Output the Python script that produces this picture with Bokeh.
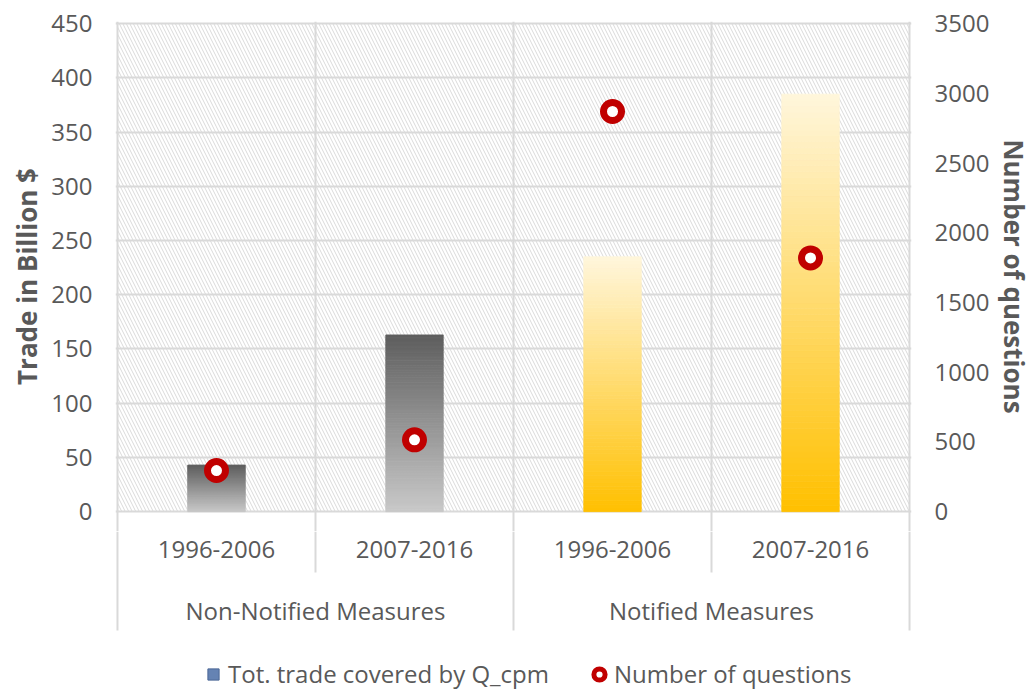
import numpy as np
from bokeh.plotting import figure
from bokeh.models import (Range1d, LinearAxis, FixedTicker, BoxAnnotation, Legend,
                          LegendItem, ColumnDataSource, Grid)
from bokeh.layouts import column
from bokeh.embed import file_html
from bokeh.resources import INLINE
from bokeh.core.properties import value

# ---------------- data ----------------
categories = ["1996-2006", "2007-2016", "1996-2006", "2007-2016"]
groups = ["Non-Notified Measures", "Non-Notified Measures", "Notified Measures", "Notified Measures"]
trade = [43, 163, 235, 385]            # Tot. trade covered by Q_cpm (billion $)
questions = [295, 515, 2870, 1820]     # Number of questions
left_ticks = [0, 50, 100, 150, 200, 250, 300, 350, 400, 450]
right_ticks = [0, 500, 1000, 1500, 2000, 2500, 3000, 3500]
series_names = ["Tot. trade covered by Q_cpm", "Number of questions"]

# ---------------- styles ----------------
FONT = "Open Sans"
TXT = "#595959"
GRID = "#d9d9d9"
GRADIENT = {  # (bottom colour, top colour)
    "Non-Notified Measures": ("#c9c9c9", "#5e5e5e"),
    "Notified Measures": ("#ffc000", "#fff6dc"),
}
W = 1035
ML, MR = 115, 123
n = len(categories)
xpos = [i + 0.5 for i in range(n)]
ymax_l = left_ticks[-1]
ymax_r = right_ticks[-1]
pad_top, pad_bot = 2, 18.3
ratio = ymax_r / ymax_l
x_range = Range1d(-0.01, n + 0.01)


def hex2rgb(h):
    h = h.lstrip("#")
    return [int(h[i:i + 2], 16) for i in (0, 2, 4)]


def lerp(c0, c1, t):
    a, b = hex2rgb(c0), hex2rgb(c1)
    return "#%02x%02x%02x" % tuple(int(round(a[k] + (b[k] - a[k]) * t)) for k in range(3))


# ---------------- main figure ----------------
MAIN_H = 531
p = figure(width=W, height=MAIN_H, x_range=x_range, y_range=Range1d(-pad_bot, ymax_l + pad_top),
           output_backend="svg", toolbar_location=None, x_axis_location=None,
           min_border_left=ML, min_border_right=MR, min_border_top=21, min_border_bottom=0)
p.outline_line_color = None
p.background_fill_color = "white"

p.ygrid.ticker = FixedTicker(ticks=left_ticks)
p.ygrid.grid_line_color = GRID
p.ygrid.grid_line_width = 2
p.xgrid.visible = False
p.add_layout(Grid(dimension=0, ticker=FixedTicker(ticks=list(range(n + 1))),
                  grid_line_color=GRID, grid_line_width=2))

hatch = BoxAnnotation(left=0, right=n, bottom=0, top=ymax_l, fill_alpha=0, line_color=None,
                      hatch_pattern="\\", hatch_color="#dadada", hatch_scale=7, hatch_weight=1,
                      level="underlay")
p.add_layout(hatch)

# gradient bars as thin stacked slices
N = 70
bx, bb, bt, bc = [], [], [], []
for i, (v, g) in enumerate(zip(trade, groups)):
    c_bot, c_top = GRADIENT[g]
    for k in range(N):
        bx.append(xpos[i])
        bb.append(v * k / N)
        bt.append(v * (k + 1) / N)
        bc.append(lerp(c_bot, c_top, (k + 0.5) / N))
bars = p.vbar(x="x", bottom="b", top="t", width=0.29, fill_color="c", line_color="c",
              line_width=0.8, source=ColumnDataSource(dict(x=bx, b=bb, t=bt, c=bc)))

p.extra_y_ranges = {"q": Range1d(-pad_bot * ratio, (ymax_l + pad_top) * ratio)}
pts = p.scatter(x=xpos, y=questions, y_range_name="q", marker="circle", size=18,
                fill_color="white", line_color="#c00000", line_width=7)

ax = p.yaxis[0]
ax.ticker = FixedTicker(ticks=left_ticks)
ax.bounds = (0, ymax_l)
ax.axis_label = "Trade in Billion $"

ra = LinearAxis(y_range_name="q", ticker=FixedTicker(ticks=right_ticks), bounds=(0, ymax_r),
                axis_label="Number of questions")
p.add_layout(ra, "right")

for a, st in ((ax, 3), (ra, 4)):
    a.axis_line_color = None
    a.major_tick_line_color = None
    a.minor_tick_line_color = None
    a.major_tick_out = 0
    a.minor_tick_out = 0
    a.major_label_standoff = 23
    a.major_label_text_font = FONT
    a.major_label_text_font_size = "24px"
    a.major_label_text_color = TXT
    a.axis_label_text_font = FONT
    a.axis_label_text_font_size = "26px"
    a.axis_label_text_font_style = "bold"
    a.axis_label_text_color = TXT
    a.axis_label_standoff = st

# ---------------- bottom (category axis + legend) ----------------
BH = 692 - MAIN_H
b = figure(width=W, height=BH, x_range=x_range, y_range=Range1d(BH, 0),
           output_backend="svg", toolbar_location=None, x_axis_location=None, y_axis_location=None,
           min_border_left=ML, min_border_right=MR, min_border_top=0, min_border_bottom=0)
b.outline_line_color = None
b.xgrid.visible = False
b.ygrid.visible = False

b.text(x=xpos, y=[18] * n, text=categories, text_align="center", text_baseline="middle",
       text_font=value(FONT), text_font_size=value("24px"), text_color=TXT)

uniq = []
for g in groups:
    if g not in uniq:
        uniq.append(g)
gstart = [groups.index(g) for g in uniq]
gend = [len(groups) - groups[::-1].index(g) for g in uniq]
gcent = [(s + e) / 2 for s, e in zip(gstart, gend)]
b.text(x=gcent, y=[79] * len(uniq), text=uniq, text_align="center", text_baseline="middle",
       text_font=value(FONT), text_font_size=value("24px"), text_color=TXT)

long_x = sorted(set(gstart + gend))
short_x = [i for i in range(1, n) if i not in long_x]
b.segment(x0=long_x, x1=long_x, y0=[0] * len(long_x), y1=[99] * len(long_x),
          line_color=GRID, line_width=2)
b.segment(x0=short_x, x1=short_x, y0=[0] * len(short_x), y1=[41] * len(short_x),
          line_color=GRID, line_width=2)

# legend-only renderers (points lie outside the visible range)
lg_bar = b.scatter(x=[-5], y=[-5], marker="square", fill_color="#6583b3", line_color="#4a6796",
                   line_width=1)
lg_pt = b.scatter(x=[-5], y=[-5], marker="circle", fill_color="white", line_color="#c00000",
                  line_width=5)
legend = Legend(items=[LegendItem(label=series_names[0], renderers=[lg_bar]),
                       LegendItem(label=series_names[1], renderers=[lg_pt])],
                orientation="horizontal", location=(84, 2), border_line_color=None,
                background_fill_alpha=0, label_text_font=FONT, label_text_font_size="24px",
                label_text_color=TXT, glyph_width=28, glyph_height=28, label_standoff=1,
                spacing=36, padding=0, margin=0)
b.add_layout(legend, "center")

layout = column(p, b)
open("out.html", "w").write(file_html(layout, INLINE))
